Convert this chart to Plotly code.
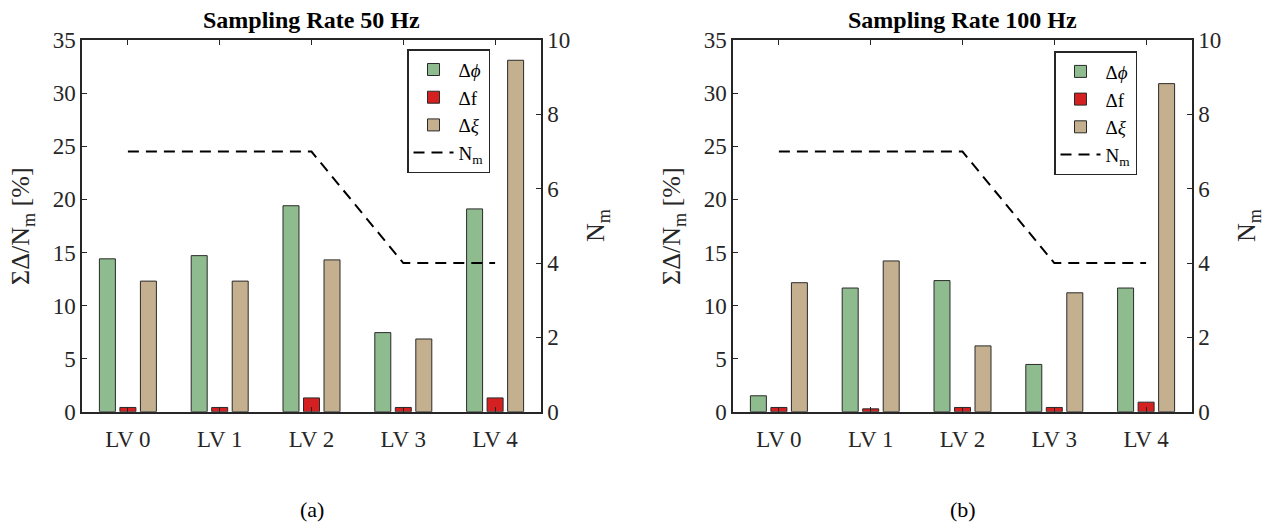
import plotly.graph_objects as go

categories = ["LV 0", "LV 1", "LV 2", "LV 3", "LV 4"]

# Sampling rate 50 Hz
phi_50 = [14.4, 14.7, 19.4, 7.45, 19.1]
f_50 = [0.4, 0.4, 1.3, 0.4, 1.3]
xi_50 = [12.3, 12.3, 14.3, 6.85, 33.1]
nm_50 = [7, 7, 7, 4, 4]

# Sampling rate 100 Hz
phi_100 = [1.5, 11.65, 12.35, 4.45, 11.65]
f_100 = [0.4, 0.27, 0.4, 0.4, 0.9]
xi_100 = [12.15, 14.2, 6.2, 11.2, 30.9]
nm_100 = [7, 7, 7, 4, 4]

panel_titles = ["Sampling Rate 50 Hz", "Sampling Rate 100 Hz"]
panel_labels = ["(a)", "(b)"]
series_names = ["Δ<i>ϕ</i>", "Δf", "Δ<i>ξ</i>", "N<sub>m</sub>"]

GREEN = "#8FBC8F"
RED = "#D42020"
TAN = "#C4B08F"
EDGE = "#2a2a2a"
AX = "#262626"
FONT = "Liberation Serif"

W, H = 1271, 530
TOP, BOT = 29.5, 419.5
dom_x = [[82 / W, 541 / W], [733 / W, 1192 / W]]
dom_y = [(H - BOT) / H, (H - TOP) / H]
MID = (TOP + BOT) / 2

fig = go.Figure()

panels = [(phi_50, f_50, xi_50, nm_50), (phi_100, f_100, xi_100, nm_100)]
for i, (phi, ff, xi, nm) in enumerate(panels):
    xa = "x" if i == 0 else "x2"
    ya = "y" if i == 0 else "y3"
    ya2 = "y2" if i == 0 else "y4"
    lg = "legend" if i == 0 else "legend2"
    for vals, col, name in [(phi, GREEN, series_names[0]), (ff, RED, series_names[1]), (xi, TAN, series_names[2])]:
        fig.add_trace(go.Bar(x=categories, y=vals, name=name, marker=dict(color=col, line=dict(color=EDGE, width=1)),
                             xaxis=xa, yaxis=ya, legend=lg))
    fig.add_trace(go.Scatter(x=categories, y=nm, name=series_names[3], mode="lines",
                             line=dict(color="black", width=2, dash="11px,7px"),
                             xaxis=xa, yaxis=ya2, legend=lg))

for i in range(2):
    sx = "" if i == 0 else "2"
    yl = "" if i == 0 else "3"
    yr = "2" if i == 0 else "4"
    base = dict(showline=True, linecolor=AX, linewidth=1.5, ticks="inside", ticklen=5, tickcolor=AX,
                showgrid=False, zeroline=False, tickfont=dict(family=FONT, size=23, color=AX))
    fig.update_layout({
        "xaxis" + sx: dict(base, domain=dom_x[i], range=[-0.5, 4.5], mirror="ticks", anchor="y" + yl,
                           ticklabelstandoff=6),
        "yaxis" + yl: dict(base, domain=dom_y, range=[0, 35], dtick=5, anchor="x" + sx),
        "yaxis" + yr: dict(base, range=[0, 10], dtick=2, overlaying="y" + yl, side="right", anchor="x" + sx),
    })

legend_style = dict(font=dict(family=FONT, size=19, color="black"), bgcolor="white", bordercolor=AX,
                    borderwidth=1.5, xanchor="left", yanchor="top", tracegroupgap=0, itemwidth=40)
fig.update_layout(
    width=W, height=H, margin=dict(l=0, r=0, t=0, b=0),
    paper_bgcolor="white", plot_bgcolor="white",
    barmode="group", bargap=0.33, bargroupgap=0.22,
    legend=dict(legend_style, x=407 / W, y=(H - 39) / H),
    legend2=dict(legend_style, x=1054 / W, y=(H - 41) / H),
    font=dict(family=FONT, color=AX, size=23),
)

annotations = []
centers = [(82 + 541) / 2, (733 + 1192) / 2]
left_axes = [82, 733]
right_axes = [541, 1192]
for i in range(2):
    annotations.append(dict(text="<b>" + panel_titles[i] + "</b>", x=centers[i] / W, y=(H - 8) / H,
                            xref="paper", yref="paper", showarrow=False, xanchor="center", yanchor="middle",
                            font=dict(family=FONT, size=24, color="black")))
    annotations.append(dict(text=panel_labels[i], x=centers[i] / W, y=(H - 522) / H,
                            xref="paper", yref="paper", showarrow=False, xanchor="center", yanchor="middle",
                            font=dict(family=FONT, size=22, color="black")))
    annotations.append(dict(text="ΣΔ/N<sub>m</sub> [%]", x=(left_axes[i] - 60) / W, y=(H - MID) / H,
                            xref="paper", yref="paper", showarrow=False, xanchor="center", yanchor="middle",
                            textangle=-90, font=dict(family=FONT, size=26, color=AX)))
    annotations.append(dict(text="N<sub>m</sub>", x=(right_axes[i] + 56) / W, y=(H - MID) / H,
                            xref="paper", yref="paper", showarrow=False, xanchor="center", yanchor="middle",
                            textangle=-90, font=dict(family=FONT, size=26, color=AX)))
fig.update_layout(annotations=annotations)

fig.write_html("out.html")
